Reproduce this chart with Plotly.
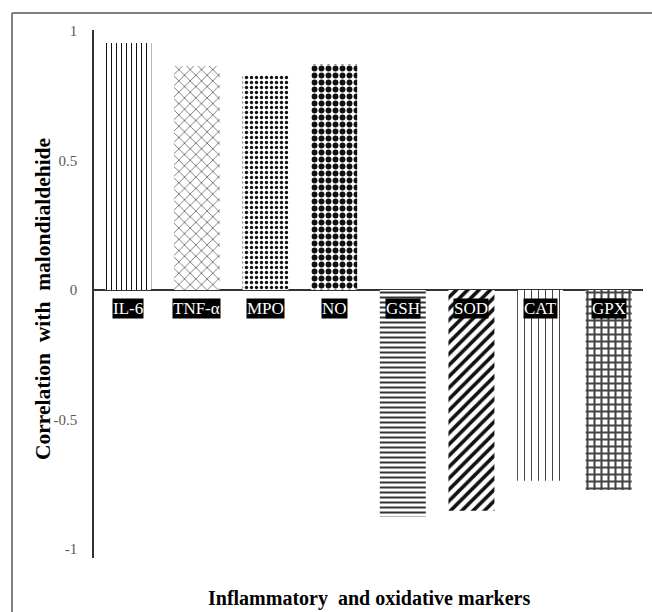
import plotly.graph_objects as go

categories = ["IL-6", "TNF-α", "MPO", "NO", "GSH", "SOD", "CAT", "GPX"]
correlations = [0.954, 0.865, 0.83, 0.873, -0.876, -0.853, -0.737, -0.772]
pattern_shapes = ["|", "x", ".", ".", "-", "/", "|", "+"]
pattern_sizes = [5, 8, 5, 7, 5, 8, 7, 7]
pattern_solidity = [0.2, 0.15, 0.35, 0.55, 0.4, 0.45, 0.15, 0.5]
pattern_fg = ["#111111", "#333333", "#111111", "#111111", "#333333", "#111111", "#444444", "#444444"]
y_ticks = [1, 0.5, 0, -0.5, -1]
y_ticktext = ["1", "0.5", "0", "-0.5", "-1"]

serif = "Liberation Serif, Times New Roman, serif"

fig = go.Figure()
fig.add_trace(go.Bar(
    x=categories,
    y=correlations,
    marker=dict(
        color="white",
        line=dict(width=0),
        pattern=dict(
            shape=pattern_shapes,
            size=pattern_sizes,
            solidity=pattern_solidity,
            fgcolor=pattern_fg,
            fgopacity=1,
            bgcolor="white",
            fillmode="replace",
        ),
    ),
    showlegend=False,
))

annotations = []
for c in categories:
    annotations.append(dict(
        x=c, y=0, xref="x", yref="y", yshift=-19, yanchor="middle",
        text=c, showarrow=False, bgcolor="black",
        font=dict(family=serif, size=17, color="white"),
        borderpad=0,
    ))

annotations.append(dict(
    x=0.5, y=0, xref="paper", yref="paper", yshift=-40, yanchor="middle",
    text="Inflammatory\u00a0 and oxidative markers", showarrow=False,
    font=dict(family=serif, size=20, color="black", weight="bold"),
))
annotations.append(dict(
    x=0, y=0.5, xref="paper", yref="paper", xshift=-51, xanchor="center",
    yshift=-5,
    text="Correlation\u00a0 with\u00a0 malondialdehide", showarrow=False, textangle=-90,
    font=dict(family=serif, size=21.5, color="black", weight="bold"),
))

frame_line = dict(color="#808080", width=2)
fig.update_layout(
    width=652, height=612,
    margin=dict(l=94, r=9, t=30, b=54),
    paper_bgcolor="white", plot_bgcolor="white",
    bargap=0.33,
    annotations=annotations,
    shapes=[
        dict(type="line", xref="paper", yref="paper",
             x0=-0.1494, x1=1.1, y0=1.032, y1=1.032, line=frame_line, layer="below"),
        dict(type="line", xref="paper", yref="paper",
             x0=-0.1494, x1=-0.1494, y0=-0.2, y1=1.032, line=frame_line, layer="below"),
    ],
    xaxis=dict(
        showticklabels=False, showgrid=False, showline=False, zeroline=False,
        ticks="",
    ),
    yaxis=dict(
        range=[-1.035, 1.004],
        tickvals=y_ticks, ticktext=y_ticktext,
        tickfont=dict(family=serif, size=15, color="#595959"),
        showgrid=False, showline=True, linecolor="#333333", linewidth=1.5,
        zeroline=True, zerolinecolor="#333333", zerolinewidth=1.5,
        ticks="", ticklabelstandoff=12,
    ),
)

fig.write_html(
    "out.html",
    config={"displayModeBar": False},
    post_script="document.body.style.margin='0';document.body.style.overflow='hidden';",
)
